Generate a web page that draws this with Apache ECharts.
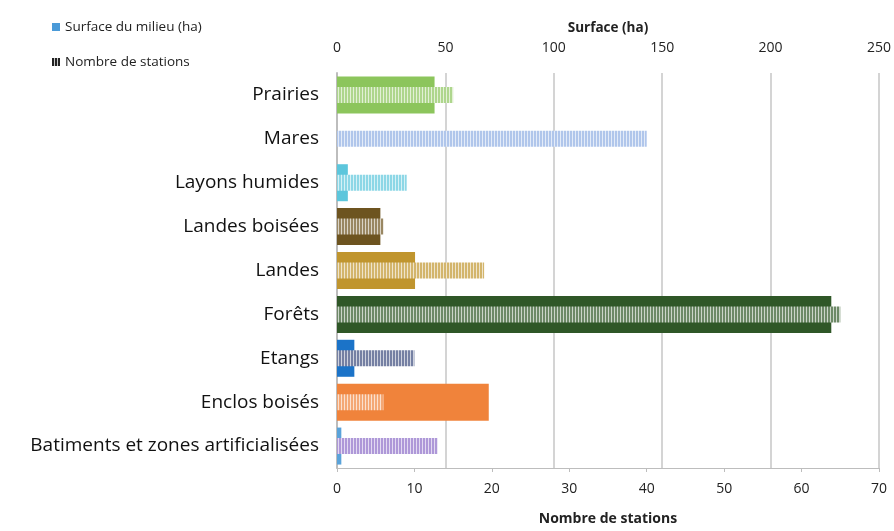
<!DOCTYPE html>
<html><head><meta charset="utf-8">
<script src="https://cdn.jsdelivr.net/npm/echarts@6/dist/echarts.min.js"></script>
<style>html,body{margin:0;padding:0;background:#fff}#c{width:894px;height:531px}</style>
</head><body><div id="c"></div>
<script>
const categories = ['Prairies','Mares','Layons humides','Landes boisées','Landes','Forêts','Etangs','Enclos boisés','Batiments et zones artificialisées'];
const surfaceValues = [45, 0, 5, 20, 36, 228, 8, 70, 2];
const stationValues = [15, 40, 9, 6, 19, 65, 10, 6, 13];
const surfaceTicks = [0, 50, 100, 150, 200, 250];
const stationTicks = [0, 10, 20, 30, 40, 50, 60, 70];

const surfaceColors = ['#8cc55c','#a6bfe6','#5cc6dc','#6d5420','#c0952e','#2f5727','#1b73c8','#f0833b','#5aa3da'];
const stationColors = ['#8cc55c','#8eaee2','#5cc6dc','#6d5420','#c0952e','#2f5727','#3b4a7c','#f0833b','#8c6cc8'];

function stripe(color, light){
  const c = document.createElement('canvas');
  c.width = 3; c.height = 4;
  const ctx = c.getContext('2d');
  ctx.fillStyle = '#fff'; ctx.fillRect(0,0,3,4);
  ctx.globalAlpha = light; ctx.fillStyle = color; ctx.fillRect(0,0,2,4);
  ctx.globalAlpha = 0.25; ctx.fillRect(2,0,1,4);
  return {image: c, repeat: 'repeat'};
}

const font = '"Open Sans", sans-serif';
const chart = echarts.init(document.getElementById('c'));
chart.setOption({
  animation: false,
  textStyle: {fontFamily: font},
  legend: {
    orient: 'vertical', left: 47, top: 15, itemGap: 21,
    itemWidth: 8, itemHeight: 8,
    textStyle: {fontSize: 13.5, color: '#222', fontFamily: font},
    data: [
      {name: 'Surface du milieu (ha)', icon: 'rect', itemStyle: {color: '#4a9ad8'}},
      {name: 'Nombre de stations', icon: 'rect', itemStyle: {color: stripe('#222', 1)}}
    ]
  },
  grid: {left: 337, right: 12, top: 73, bottom: 54, containLabel: false},
  xAxis: [
    {type: 'value', position: 'top', min: surfaceTicks[0], max: surfaceTicks[surfaceTicks.length-1], interval: 50,
     name: 'Surface (ha)', nameLocation: 'middle', nameGap: 38,
     nameTextStyle: {fontWeight: 'bold', fontSize: 13.5, color: '#222'},
     axisLine: {show: false}, axisTick: {show: false},
     axisLabel: {fontSize: 14, color: '#222', margin: 18},
     splitLine: {show: true, lineStyle: {color: '#d4d4d4', width: 2}}},
    {type: 'value', position: 'bottom', min: stationTicks[0], max: stationTicks[stationTicks.length-1], interval: 10,
     name: 'Nombre de stations', nameLocation: 'middle', nameGap: 44,
     nameTextStyle: {fontWeight: 'bold', fontSize: 14, color: '#222'},
     axisLine: {show: true, lineStyle: {color: '#bdbdbd'}},
     axisTick: {show: true, length: 4, lineStyle: {color: '#bdbdbd'}},
     axisLabel: {fontSize: 14, color: '#222', margin: 14},
     splitLine: {show: false}}
  ],
  yAxis: [
    {type: 'category', data: categories, inverse: true,
     axisLine: {show: true, lineStyle: {color: '#bdbdbd', width: 2}}, axisTick: {show: false},
     axisLabel: {fontSize: 19, color: '#111', margin: 18}},
    {type: 'category', data: categories, inverse: true, show: false}
  ],
  series: [
    {name: 'Surface du milieu (ha)', type: 'bar', xAxisIndex: 0, yAxisIndex: 0, barWidth: 37,
     data: surfaceValues.map((v,i)=>({value: v, itemStyle: {color: surfaceColors[i]}})), z: 2},
    {name: 'Nombre de stations', type: 'bar', xAxisIndex: 1, yAxisIndex: 1, barWidth: 16,
     data: stationValues.map((v,i)=>({value: v, itemStyle: {color: stripe(stationColors[i], 0.7)}})), z: 3}
  ]
});
</script></body></html>
